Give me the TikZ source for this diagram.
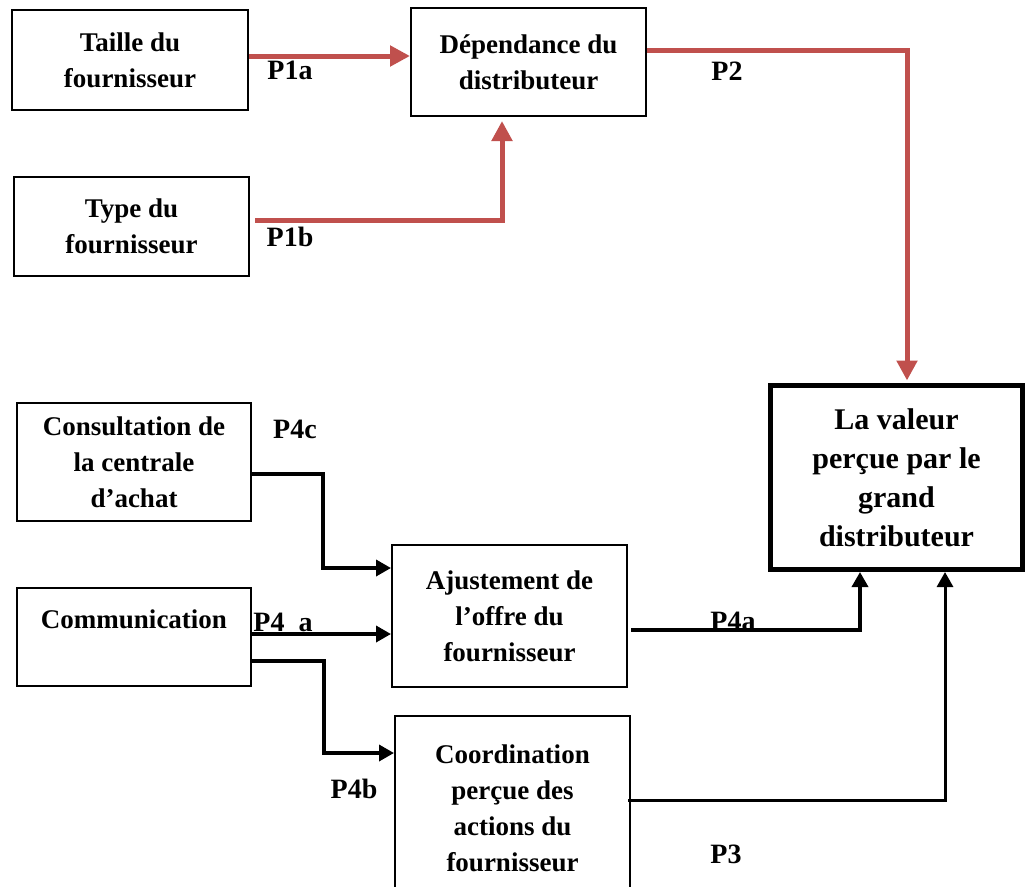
\documentclass[tikz,border=0pt]{standalone}
\usepackage{fontspec}
\setmainfont{Liberation Serif}
\usepackage{tikz}
\usetikzlibrary{arrows.meta}
\definecolor{linkred}{RGB}{192,80,77}

\begin{document}
\begin{tikzpicture}[x=1pt,y=-1pt,
        box/.style = {draw, line width=2pt, align=center, inner sep=0pt,
                      font=\bfseries\fontsize{27pt}{36pt}\selectfont},
        plabel/.style = {inner sep=0pt, font=\bfseries\fontsize{28pt}{34pt}\selectfont},
        redlink/.style = {draw=linkred, line width=5pt,
                          -{Triangle[length=20pt,width=20pt]}},
        blklink/.style = {draw, line width=3.5pt,
                          -{Triangle[length=15pt,width=16pt]}}]
            \useasboundingbox (0,0) rectangle (1027,886);
            \node [box, minimum width=236pt, minimum height=100pt] (taille) at (130,60) {Taille du\\fournisseur};
            \node [box, minimum width=235pt, minimum height=108pt] (dependance) at (528.5,62) {Dépendance du\\distributeur};
            \node [box, minimum width=235pt, minimum height=99pt] (type) at (131.5,226.5) {Type du\\fournisseur};
            \node [box, minimum width=234pt, minimum height=118pt] (consultation) at (134,462) {Consultation de\\la centrale\\d’achat};
            \node [box, minimum width=234pt, minimum height=98pt] (communication) at (134,637) {Communication\\\mbox{}};
            \node [box, minimum width=235pt, minimum height=142pt] (ajustement) at (509.5,616) {Ajustement de\\l’offre du\\fournisseur};
            \node [box, minimum width=235pt, minimum height=184pt] (coordination) at (512.5,808) {Coordination\\perçue des\\actions du\\fournisseur};
            \node [box, line width=5pt, minimum width=252pt, minimum height=184pt,
                   font=\bfseries\fontsize{30pt}{39pt}\selectfont] (valeur) at (896.5,477.5) {La valeur\\perçue par le\\grand\\distributeur};

            \draw [redlink] ([yshift=4pt]taille.east) coordinate (p1a) -- (p1a -| dependance.west);
            \draw [redlink] ([xshift=5pt,yshift=6.5pt]type.east) -| ([xshift=-26.5pt,yshift=-4pt]dependance.south);
            \draw [redlink] ([yshift=12pt]dependance.east) -| ([xshift=10.5pt,yshift=2.5pt]valeur.north);

            \draw [blklink] ([yshift=-12pt]consultation.east) -- ++(71,0) |- ([yshift=48pt]ajustement.west);
            \draw [blklink] ([yshift=3pt]communication.east) coordinate (p4a) -- (p4a -| ajustement.west);
            \draw [blklink] ([xshift=-2pt,yshift=-24pt]communication.east) -- ++(74,0) |- ([yshift=55pt]coordination.west);
            \draw [blklink] ([xshift=3pt,yshift=-14pt]ajustement.east) -| ([xshift=-36.5pt]valeur.south);
            \draw [blklink, line width=3pt] ([xshift=-3pt,yshift=8pt]coordination.east) -| ([xshift=48.5pt]valeur.south);

            \node [plabel] (lblP1a) at (290,70) {P1a};
            \node [plabel] (lblP1b) at (290,237) {P1b};
            \node [plabel] (lblP2) at (727,71) {P2};
            \node [plabel] (lblP4c) at (295,429) {P4c};
            \node [plabel] (lblP4sa) at (283,622) {P4~~a};
            \node [plabel] (lblP4b) at (354,789) {P4b};
            \node [plabel] (lblP4a) at (733,621) {P4a};
            \node [plabel] (lblP3) at (726,854) {P3};
        \end{tikzpicture}
\end{document}
